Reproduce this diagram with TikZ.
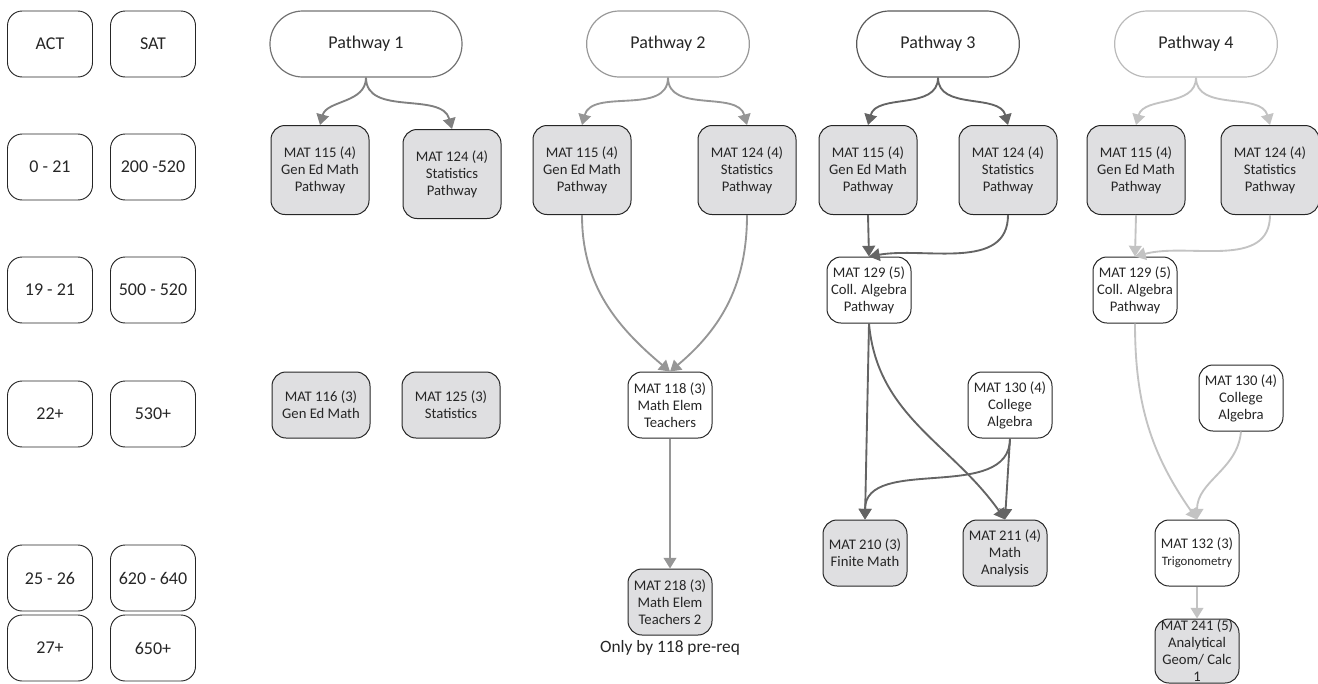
\documentclass[tikz,border=0pt]{standalone}
\usepackage{fontspec}
\setmainfont{Carlito}
\usetikzlibrary{arrows.meta}

\definecolor{courseGray}{RGB}{223,223,225}
\definecolor{lineOne}{RGB}{128,128,128}
\definecolor{lineTwo}{RGB}{150,150,150}
\definecolor{lineThree}{RGB}{100,100,100}
\definecolor{lineFour}{RGB}{195,195,195}

\begin{document}
\begin{tikzpicture}[x=0.75pt, y=-0.75pt,
    every node/.style={align=center, text=black!85, inner sep=1pt},
    scorebox/.style={draw=black!85, line width=0.7pt, rounded corners=11pt,
      minimum width=63.75pt, minimum height=49.5pt, font=\fontsize{13.5}{16}\selectfont},
    header/.style={draw=#1, line width=0.9pt, rounded corners=24.5pt,
      minimum width=122pt, minimum height=49.5pt, font=\fontsize{13.5}{16}\selectfont},
    bigcourse/.style={draw=black!85, line width=0.75pt, rounded corners=10.5pt, fill=courseGray,
      minimum width=73.5pt, minimum height=66.75pt, font=\fontsize{11}{12.75}\selectfont},
    course/.style={draw=black!85, line width=0.75pt, rounded corners=10.5pt,
      minimum width=63pt, minimum height=49.5pt, font=\fontsize{11}{12.75}\selectfont},
    link/.style={draw=#1, line width=1.4pt, -{Triangle[width=9.5pt,length=8pt]}}]
  \useasboundingbox (0,0) rectangle (1318,683);

  % score columns
  \node[scorebox] (act)  at (50,44)  {ACT};
  \node[scorebox] (sat)  at (153,44) {SAT};
  \node[scorebox] (actA) at (50,167)  {0 - 21};
  \node[scorebox] (satA) at (153,167) {200 -520};
  \node[scorebox] (actB) at (50,290)  {19 - 21};
  \node[scorebox] (satB) at (153,290) {500 - 520};
  \node[scorebox] (actC) at (50,414)  {22+};
  \node[scorebox] (satC) at (153,414) {530+};
  \node[scorebox] (actD) at (50,578)  {25 - 26};
  \node[scorebox] (satD) at (153,578) {620 - 640};
  \node[scorebox] (actE) at (50,648)  {27+};
  \node[scorebox] (satE) at (153,648) {650+};

  % pathway headers
  \node[header=black!55, minimum width=144pt] (pa) at (366,44) {Pathway 1};
  \node[header=black!40] (pb) at (668,44)  {Pathway 2};
  \node[header=black!65] (pc) at (938,44)  {Pathway 3};
  \node[header=black!27] (pd) at (1196,44) {Pathway 4};

  % pathway 1
  \node[bigcourse] (aGen) at (320,170) {MAT 115 (4)\\Gen Ed Math\\Pathway};
  \node[bigcourse] (aSta) at (452,174) {MAT 124 (4)\\Statistics\\Pathway};
  \node[bigcourse, minimum height=49.5pt] (aGenB) at (321,405) {MAT 116 (3)\\Gen Ed Math};
  \node[bigcourse, minimum height=49.5pt] (aStaB) at (451,405) {MAT 125 (3)\\Statistics};
  \draw[link=lineOne] (pa.south) to[out=-90, in=75] (aGen.north);
  \draw[link=lineOne] (pa.south) to[out=-90, in=105] (aSta.north);

  % pathway 2
  \node[bigcourse] (bGen) at (582,170) {MAT 115 (4)\\Gen Ed Math\\Pathway};
  \node[bigcourse] (bSta) at (747,170) {MAT 124 (4)\\Statistics\\Pathway};
  \node[course] (bEle) at (670,405) {MAT 118 (3)\\Math Elem\\Teachers};
  \node[course, fill=courseGray] (bEleB) at (670,602) {MAT 218 (3)\\Math Elem\\Teachers 2};
  \node[font=\fontsize{13}{15}\selectfont, anchor=north] (bNote) at (670,639) {Only by 118 pre-req};
  \draw[link=lineTwo] (pb.south) to[out=-90, in=75] (bGen.north);
  \draw[link=lineTwo] (pb.south) to[out=-90, in=105] (bSta.north);
  \draw[link=lineTwo] (bGen.south) to[out=-90, in=140] (bEle.north);
  \draw[link=lineTwo] (bSta.south) to[out=-90, in=40] (bEle.north);
  \draw[link=lineTwo] (bEle.south) -- (bEleB.north);

  % pathway 3
  \node[bigcourse] (cGen) at (868,170)  {MAT 115 (4)\\Gen Ed Math\\Pathway};
  \node[bigcourse] (cSta) at (1008,170) {MAT 124 (4)\\Statistics\\Pathway};
  \node[course] (cAlg)  at (869,290)  {MAT 129 (5)\\Coll. Algebra\\Pathway};
  \node[course] (cCol)  at (1010,405) {MAT 130 (4)\\College\\Algebra};
  \node[course, fill=courseGray] (cFin) at (865,553)  {MAT 210 (3)\\Finite Math};
  \node[course, fill=courseGray] (cAna) at (1005,553) {MAT 211 (4)\\Math\\Analysis};
  \draw[link=lineThree] (pc.south) to[out=-90, in=75] (cGen.north);
  \draw[link=lineThree] (pc.south) to[out=-90, in=105] (cSta.north);
  \draw[link=lineThree] (cGen.south) -- (cAlg.north);
  \draw[link=lineThree] (cSta.south) to[out=-90, in=10] (cAlg.north);
  \draw[link=lineThree] (cAlg.south) -- (cFin.north);
  \draw[link=lineThree] (cAlg.south) to[out=-85, in=125] (cAna.north);
  \draw[link=lineThree] (cCol.south) to[out=-90, in=90] (cFin.north);
  \draw[link=lineThree] (cCol.south) -- (cAna.north);

  % pathway 4
  \node[bigcourse] (dGen) at (1136,170) {MAT 115 (4)\\Gen Ed Math\\Pathway};
  \node[bigcourse] (dSta) at (1270,170) {MAT 124 (4)\\Statistics\\Pathway};
  \node[course] (dAlg) at (1135,290) {MAT 129 (5)\\Coll. Algebra\\Pathway};
  \node[course] (dCol) at (1241,398) {MAT 130 (4)\\College\\Algebra};
  \node[course] (dTri) at (1197,553) {MAT 132 (3)\\{\fontsize{9.6}{12.75}\selectfont Trigonometry}};
  \node[course, fill=courseGray, minimum height=48pt, inner sep=0pt] (dCal) at (1197,651) {MAT 241 (5)\\Analytical\\Geom/ Calc\\1};
  \draw[link=lineFour] (pd.south) to[out=-90, in=75] (dGen.north);
  \draw[link=lineFour] (pd.south) to[out=-90, in=105] (dSta.north);
  \draw[link=lineFour] (dGen.south) -- (dAlg.north);
  \draw[link=lineFour] (dSta.south) to[out=-90, in=15] (dAlg.north);
  \draw[link=lineFour] (dAlg.south) to[out=-90, in=125] (dTri.north);
  \draw[link=lineFour] (dCol.south) to[out=-95, in=90] (dTri.north);
  \draw[link=lineFour] (dTri.south) -- (dCal.north);
\end{tikzpicture}
\end{document}
